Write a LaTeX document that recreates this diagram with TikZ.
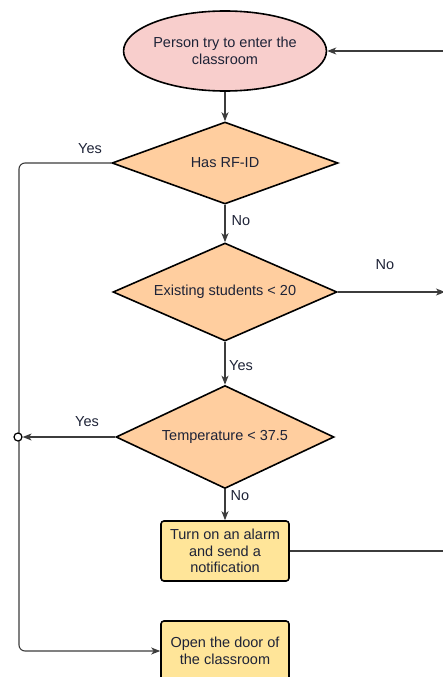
\documentclass[tikz,border=0pt]{standalone}
\usepackage{fontspec}
\setmainfont{Liberation Sans}
\usetikzlibrary{shapes.geometric,arrows.meta}
\definecolor{txtcol}{RGB}{30,35,55}
\definecolor{pinkfill}{HTML}{F8CECC}
\definecolor{orangefill}{HTML}{FFCE9F}
\definecolor{yellowfill}{HTML}{FFE599}
\definecolor{linecol}{RGB}{60,60,60}

\begin{document}
\begin{tikzpicture}[x=1pt,y=-1pt, line width=1.1pt, >={Stealth[length=9pt,width=7pt,inset=2.5pt]},
    every node/.style={font=\fontsize{14.5}{16.5}\selectfont, text=txtcol, align=center},
    startnode/.style={ellipse, draw=black, line width=1.6pt, fill=pinkfill, minimum width=174pt, minimum height=80pt, inner sep=0pt},
    decision/.style={diamond, aspect=2.2, draw=black, line width=1.6pt, fill=orangefill, inner sep=0pt},
    action/.style={rectangle, rounded corners=3pt, draw=black, line width=1.6pt, fill=yellowfill, minimum width=128pt, minimum height=60pt, inner sep=2pt},
    conn/.style={color=linecol, line width=1.1pt}]
    \useasboundingbox (0,0) rectangle (443,677);
    \clip (0,0) rectangle (443,677);
    \node [startnode] (Enter) at (225,51) {Person try to enter the\\classroom};
    \node [decision, minimum width=226pt, minimum height=82pt] (RFID) at (225,163) {Has RF-ID};
    \node [decision, minimum width=224pt, minimum height=98pt] (Students) at (225,292) {Existing students < 20};
    \node [decision, minimum width=218pt, minimum height=103pt] (Temp) at (225,437) {Temperature < 37.5};
    \node [action] (Alarm) at (225,551) {Turn on an alarm\\and send a\\notification};
    \node [action] (Door) at (225,651) {Open the door of\\the classroom};
    % corners of the two loops
    \coordinate (LeftTop) at (19,163);
    \coordinate (LeftBot) at (19,651);
    \coordinate (RightTop) at (445,51);
    \coordinate (RightBot) at (445,551);
    \coordinate (FullEnd) at (445,292);
    \path[conn,->] (Enter) edge (RFID);
    \path[conn,->] (RFID) edge (Students);
    \path[conn,->] (Students) edge (Temp);
    \path[conn,->] (Temp) edge (Alarm);
    \path[conn,->] (Students.east) edge (FullEnd);
    \draw[conn,->,rounded corners=6pt] (RFID.west) -- (LeftTop) -- (LeftBot) -- (Door.west);
    \draw[conn,->] (Alarm.east) -- (RightBot) -- (RightTop) -- (Enter.east);
    \node [circle, draw=black, line width=1.2pt, fill=white, minimum size=8pt, inner sep=0pt] (Join) at (18,437) {};
    \path[conn,->] (Temp.west) edge (Join);
    % labels on the connectors
    \node (YesRFID) at (90,149) {Yes};
    \node (NoRFID) at (241,221) {No};
    \node (NoStud) at (385,265) {No};
    \node (YesStud) at (241,366) {Yes};
    \node (YesTemp) at (87,422) {Yes};
    \node (NoTemp) at (240,496) {No};
\end{tikzpicture}
\end{document}
